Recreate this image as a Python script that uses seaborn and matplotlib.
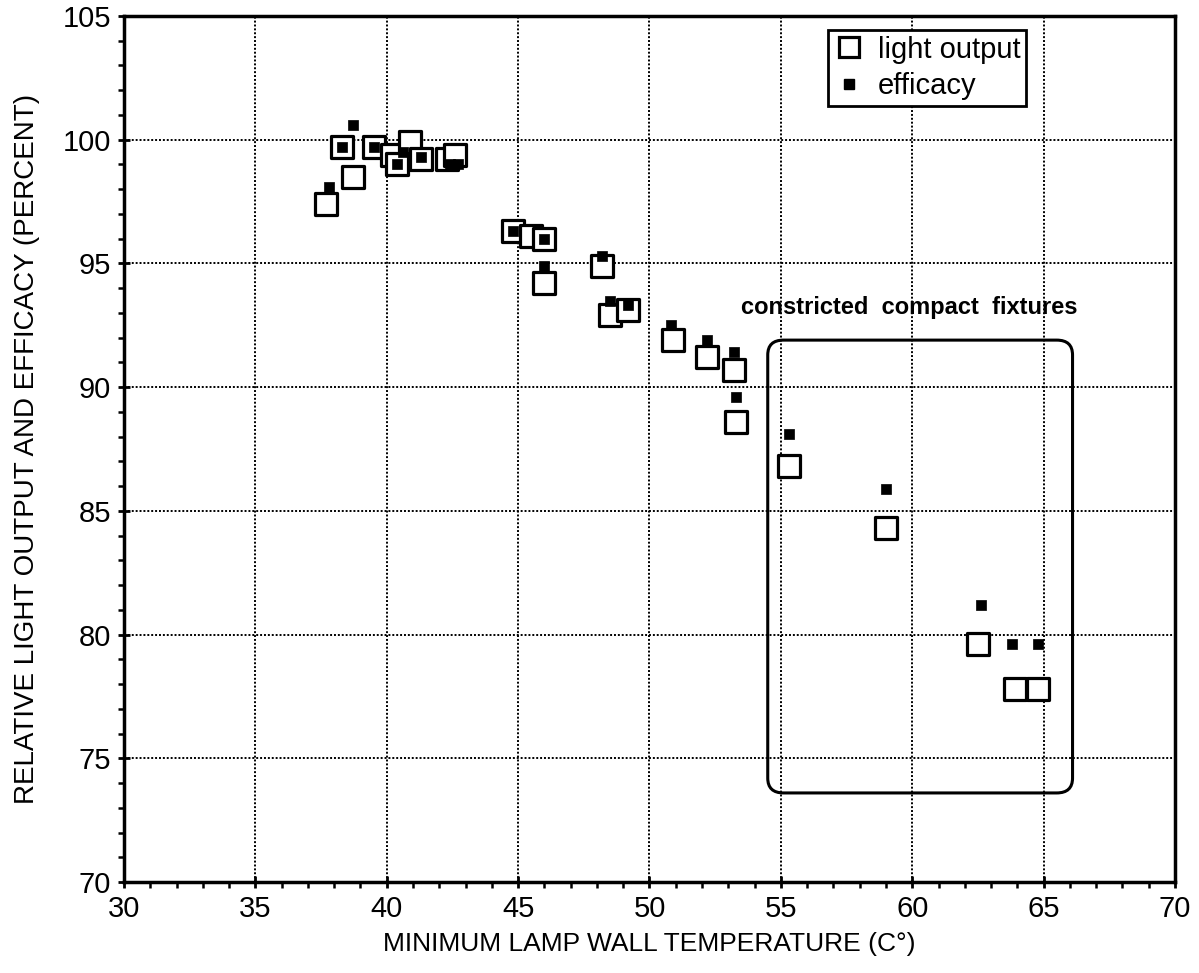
import matplotlib
matplotlib.use("Agg")
import matplotlib.pyplot as plt
import seaborn as sns
import pandas as pd
from matplotlib.patches import FancyBboxPatch
from matplotlib.lines import Line2D
from matplotlib.ticker import MultipleLocator

# light output (open squares)
light_temp = [37.7, 38.3, 38.7, 39.5, 40.2, 40.4, 40.9, 41.3, 42.3, 42.6,
              44.8, 45.5, 46.0, 46.0, 48.2, 48.5, 49.2,
              50.9, 52.2, 53.2, 53.3, 55.3, 59.0, 62.5, 63.9, 64.8]
light_val = [97.4, 99.7, 98.5, 99.7, 99.4, 99.0, 99.9, 99.2, 99.2, 99.4,
             96.3, 96.1, 96.0, 94.2, 94.9, 92.9, 93.1,
             91.9, 91.2, 90.7, 88.6, 86.8, 84.3, 79.6, 77.8, 77.8]

# efficacy (filled squares)
eff_temp = [37.8, 38.3, 38.7, 39.5, 40.4, 40.6, 41.3, 42.4, 42.7,
            44.8, 46.0, 46.0, 48.2, 48.5, 49.2,
            50.8, 52.2, 53.2, 53.3, 55.3, 59.0, 62.6, 63.8, 64.8]
eff_val = [98.1, 99.7, 100.6, 99.7, 99.0, 99.5, 99.3, 99.0, 99.0,
           96.3, 96.0, 94.9, 95.3, 93.5, 93.3,
           92.5, 91.9, 91.4, 89.6, 88.1, 85.9, 81.2, 79.6, 79.6]

light_df = pd.DataFrame({"temp": light_temp, "value": light_val})
eff_df = pd.DataFrame({"temp": eff_temp, "value": eff_val})

sns.set_style("white")
plt.rcParams["font.family"] = ["Liberation Sans", "DejaVu Sans"]
plt.rcParams["text.color"] = "black"
plt.rcParams["axes.labelcolor"] = "black"
plt.rcParams["xtick.color"] = "black"
plt.rcParams["ytick.color"] = "black"

fig = plt.figure(figsize=(11.99, 9.73), dpi=100)
ax = fig.add_axes([0.1034, 0.0935, 0.8766, 0.8901])

sns.scatterplot(data=light_df, x="temp", y="value", ax=ax, marker="s", s=270,
                facecolor="white", edgecolor="black", linewidth=2.3, zorder=3)
sns.scatterplot(data=eff_df, x="temp", y="value", ax=ax, marker="s", s=55,
                color="black", edgecolor="black", linewidth=0.5, zorder=4)

ax.set_xlim(30, 70)
ax.set_ylim(70, 105)
ax.xaxis.set_major_locator(MultipleLocator(5))
ax.yaxis.set_major_locator(MultipleLocator(5))
ax.xaxis.set_minor_locator(MultipleLocator(1))
ax.yaxis.set_minor_locator(MultipleLocator(1))
ax.tick_params(which="major", direction="inout", length=9, width=2, labelsize=21, pad=5)
ax.tick_params(which="minor", direction="out", length=4, width=1.8)
ax.tick_params(bottom=True, left=True, which="both")

ax.grid(True, which="major", color="black", linestyle=(0, (1, 1)), linewidth=1.4)
for sp in ax.spines.values():
    sp.set_linewidth(2.5)
    sp.set_color("black")

ax.set_xlabel("MINIMUM LAMP WALL TEMPERATURE (C°)", fontsize=19, labelpad=6)
ax.set_ylabel("RELATIVE LIGHT OUTPUT AND EFFICACY (PERCENT)", fontsize=20, labelpad=16)

box = FancyBboxPatch((54.5, 73.6), 11.6, 18.3,
                     boxstyle="round,pad=0,rounding_size=0.6",
                     fill=False, edgecolor="black", linewidth=2.2, zorder=5)
ax.add_patch(box)
ax.text(59.9, 93.2, "constricted  compact  fixtures", fontsize=17, fontweight="bold",
        ha="center", va="center", zorder=5)

handles = [
    Line2D([], [], marker="s", linestyle="none", markersize=15, markerfacecolor="white",
           markeredgecolor="black", markeredgewidth=2.3),
    Line2D([], [], marker="s", linestyle="none", markersize=7, markerfacecolor="black",
           markeredgecolor="black"),
]
leg = ax.legend(handles, ["light output", "efficacy"], loc="upper left",
                bbox_to_anchor=(0.67, 0.984), fontsize=21, frameon=True, fancybox=False,
                handletextpad=0.5, labelspacing=0.28, borderpad=0.2, handlelength=1.0,
                borderaxespad=0.0)
leg.get_frame().set_edgecolor("black")
leg.get_frame().set_linewidth(2)
leg.get_frame().set_alpha(1)

fig.savefig("out.png", dpi=100)
